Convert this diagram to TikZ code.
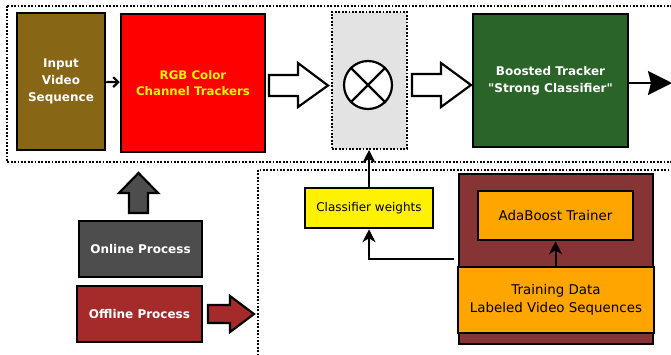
\documentclass[tikz,border=0pt]{standalone}
\usepackage{fontspec}
\setmainfont{DejaVu Sans}[Ligatures=TeXOff]
\usepackage{tikz}
\usetikzlibrary{arrows.meta}

\definecolor{inbrown}{RGB}{135,102,22}
\definecolor{mixgray}{RGB}{227,227,227}
\definecolor{boostgreen}{RGB}{42,100,41}
\definecolor{onlinegray}{RGB}{77,77,77}
\definecolor{offlinered}{RGB}{165,42,42}
\definecolor{trainred}{RGB}{135,52,52}
\definecolor{trainorange}{RGB}{255,165,0}

\tikzset{
  procbox/.style={draw=black, line width=2.5pt, inner sep=0pt, align=center},
  boldtext/.style={font=\fontsize{12}{16.7}\selectfont\bfseries},
  plaintext/.style={font=\fontsize{13.4}{18.3}\selectfont},
  dotbox/.style={draw=black, line width=2pt, dash pattern=on 1.8pt off 1.6pt},
  flow/.style={line width=2pt, -{Stealth[length=13pt,width=13pt,inset=4pt]}},
  blockarrow/.style={draw=black, line width=2.2pt, line join=miter}
}

\begin{document}
\begin{tikzpicture}[x=1pt, y=-1pt]
    \useasboundingbox (0,0) rectangle (671,354);
    \clip (0,0) rectangle (671,354);
    % the two process areas
    \draw[dotbox, line width=2.6pt] (7,6) rectangle (680,162);
    \draw[dotbox, line width=1.8pt] (258,170) rectangle (680,360);
    % online chain
    \node[procbox, boldtext, fill=inbrown, text=white, minimum width=88pt, minimum height=137pt]
      (input) at (61,81.5) {Input\\Video\\Sequence};
    \node[procbox, boldtext, font=\fontsize{11.8}{16.7}\selectfont\bfseries, fill=red, text=yellow,
      minimum width=144pt, minimum height=138pt]
      (rgb) at (193,83) {RGB Color\\Channel Trackers};
    \node[dotbox, fill=mixgray, inner sep=0pt, minimum width=75pt, minimum height=137pt]
      (mix) at (369.5,80.5) {};
    \node[draw, circle, line width=2.2pt, fill=white, minimum size=48pt, inner sep=0pt]
      (prod) at (368,85) {};
    \draw[line width=2.2pt] (prod.north west) -- (prod.south east);
    \draw[line width=2.2pt] (prod.north east) -- (prod.south west);
    \node[procbox, boldtext, fill=boostgreen, text=white, minimum width=155pt, minimum height=133pt]
      (boost) at (550.5,80.5) {Boosted Tracker\\"Strong Classifier"};
    \coordinate (out) at (672,83);
    \draw[line width=2.2pt, -{Straight Barb[length=5pt,width=10pt]}] (input) -- (rgb);
    \draw[line width=2.2pt, -{Stealth[length=24pt,width=24pt,inset=3pt]}] (boost.east |- out) -- (out);
    % hollow arrows
    \draw[blockarrow, fill=white] (269,75) -- (298,75) -- (298,63) -- (328,85.5)
      -- (298,107) -- (298,96) -- (269,96) -- cycle;
    \draw[blockarrow, fill=white] (412,74) -- (441,74) -- (441,63) -- (471,85)
      -- (441,107) -- (441,96) -- (412,96) -- cycle;
    % legend
    \node[procbox, boldtext, fill=onlinegray, text=white, minimum width=123pt, minimum height=56pt]
      (online) at (140.5,249) {Online Process};
    \node[procbox, boldtext, fill=offlinered, text=white, minimum width=125pt, minimum height=56pt]
      (offline) at (139.5,314) {Offline Process};
    \draw[blockarrow, fill=onlinegray] (129,213) -- (129,193) -- (119,193) -- (138.5,173)
      -- (158,193) -- (148,193) -- (148,213) -- cycle;
    \draw[blockarrow, fill=offlinered] (208,305) -- (230,305) -- (230,296) -- (254,314)
      -- (230,332) -- (230,323) -- (208,323) -- cycle;
    % offline training
    \node[procbox, fill=trainred, minimum width=194pt, minimum height=170pt]
      (trainer) at (556,259) {};
    \node[procbox, plaintext, fill=trainorange, minimum width=155pt, minimum height=49pt]
      (ada) at (555.5,215.5) {AdaBoost Trainer};
    \node[procbox, plaintext, fill=trainorange, minimum width=196pt, minimum height=66pt]
      (data) at (556,300) {Training Data\\Labeled Video Sequences};
    \node[procbox, font=\fontsize{12}{14}\selectfont, fill=yellow, minimum width=128pt, minimum height=40pt]
      (weights) at (369,208) {Classifier weights};
    \draw[flow] (data.north -| ada) -- (ada.south);
    \draw[flow] (weights.north) -- (mix.south -| weights);
    \draw[line width=2pt, shorten <=4pt, -{Stealth[length=13pt,width=13pt,inset=4pt]}]
      (trainer.west) -| (weights.south);
\end{tikzpicture}
\end{document}
